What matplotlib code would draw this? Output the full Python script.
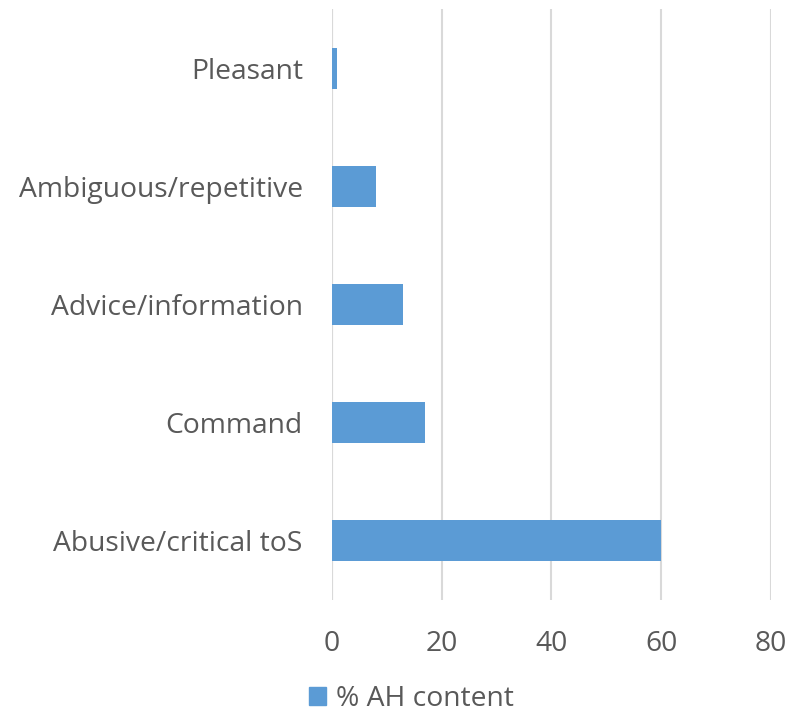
import matplotlib
matplotlib.use("Agg")
from matplotlib import pyplot as plt
from matplotlib.patches import Patch

categories = ["Abusive/critical toS", "Command", "Advice/information", "Ambiguous/repetitive", "Pleasant"]
values = [60, 17, 13, 8, 1]
xticks = [0, 20, 40, 60, 80]
series_name = "% AH content"

plt.rcParams['font.family'] = ['Open Sans', 'DejaVu Sans']
txt = '#595959'
bar_col = '#5b9bd5'

fig = plt.figure(figsize=(7.98, 7.15), dpi=100)
ax = fig.add_axes([0.416, 0.161, 0.550, 0.826])

ax.barh(range(len(categories)), values, height=0.35, color=bar_col, zorder=3)
ax.set_xlim(0, 80)
ax.set_ylim(-0.5, len(categories) - 0.5)
ax.set_xticks(xticks)
ax.set_yticks(range(len(categories)))
ax.set_yticklabels(categories)
ax.grid(axis='x', color='#d9d9d9', linewidth=1.5, zorder=0)
for s in ax.spines.values():
    s.set_visible(False)
ax.axvline(0, color='#d9d9d9', linewidth=1.5, zorder=1)
ax.tick_params(axis='y', length=0, pad=21, labelsize=20.3, labelcolor=txt)
ax.tick_params(axis='x', length=0, pad=22, labelsize=20.3, labelcolor=txt)

leg = fig.legend(handles=[Patch(color=bar_col, label=series_name)], loc='center',
                 bbox_to_anchor=(0.516, 0.022), frameon=False, fontsize=20.3,
                 handlelength=0.6, handleheight=0.6, handletextpad=0.35, labelcolor=txt)

fig.savefig("out.png", dpi=100)
